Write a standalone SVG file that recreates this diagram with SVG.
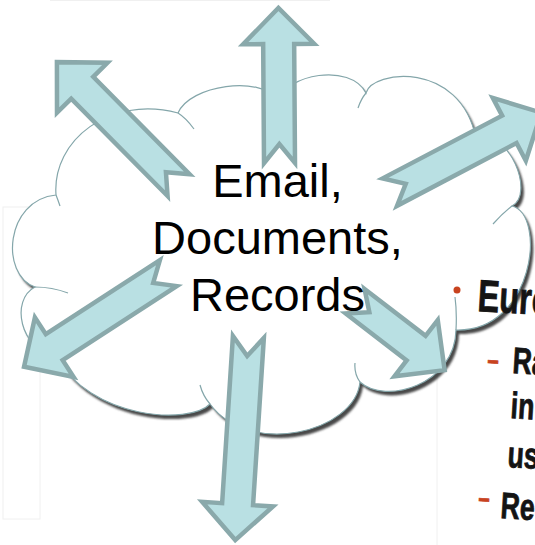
<svg xmlns="http://www.w3.org/2000/svg" xmlns:xlink="http://www.w3.org/1999/xlink" width="535" height="545" viewBox="0 0 535 545">
  <defs>
    <style>
      .cloud { fill: #ffffff; stroke: #84a6aa; stroke-width: 1.2; }
      .cloud-inner { fill: none; stroke: #84a6aa; stroke-width: 1.2; }
      .arrow { fill: #b9e0e3; stroke: #8aa9ab; stroke-width: 4.5; stroke-linejoin: miter; stroke-miterlimit: 6; }
      .label { font-family: "Liberation Sans", Arial, sans-serif; font-size: 47px; fill: #000000; text-anchor: middle; }
      .slide { font-family: "Liberation Sans", Arial, sans-serif; font-weight: bold; fill: #141414; stroke: #141414; stroke-width: 0.8; }
      .dash { fill: #c8431f; stroke: #c8431f; }
      .faint { fill: none; stroke: #f0f0f0; stroke-width: 1; }
    </style>
    <filter id="soft" x="-5%" y="-5%" width="110%" height="110%">
      <feGaussianBlur stdDeviation="0.8"/>
    </filter>
    <path id="cloudShape" d="M56,195 C52,140 110,95 178,113 C190,85 260,75 280,100 C285,75 350,62 366,93 C372,70 460,60 476,138 C510,128 535,195 512,206 C547,215 534,332 456,330 C455,385 385,405 360,382 C355,432 250,458 210,404 C190,425 90,420 55,355 C20,350 10,300 35,287 C0,275 5,200 56,195 Z"/>
  </defs>

  <rect width="535" height="545" fill="#ffffff"/>

  <!-- faint edges of the slide pictures behind -->
  <g id="backdrop">
    <line class="faint" x1="50" y1="0.5" x2="330" y2="0.5"/>
    <rect class="faint" x="3" y="207" width="37" height="312"/>
    <line class="faint" x1="437" y1="330" x2="437" y2="545"/>
  </g>

  <!-- cloud with drop shadow -->
  <g id="cloud">
    <use xlink:href="#cloudShape" transform="translate(3,4)" fill="#4a4a4a" filter="url(#soft)"/>
    <use xlink:href="#cloudShape" class="cloud"/>
    <path class="cloud-inner" d="M56,195 Q58,200 60,206 M178,113 Q186,118 194,129 M366,93 Q361,99 358,108 M512,206 Q503,213 493,224 M456,330 Q457,312 455,297 M360,382 Q354,374 355,363 M210,404 Q203,396 200,385 M35,287 Q52,287 68,293"/>
  </g>

  <!-- notched block arrows radiating from the cloud -->
  <g id="connectors">
    <polygon class="arrow" transform="translate(279.5,163) rotate(-90.4)" points="0,-15.5 119,-15.5 119,-35.5 155,0 119,35.5 119,15.5 0,15.5 19,0"/>
    <polygon class="arrow" transform="translate(178.6,185.1) rotate(-134.7)" points="0,-15.5 137,-15.5 137,-35.5 173,0 137,35.5 137,15.5 0,15.5 18,0"/>
    <polygon class="arrow" transform="translate(389.8,192.1) rotate(-27.7)" points="0,-15.5 135,-15.5 135,-35.5 171,0 135,35.5 135,15.5 0,15.5 18,0"/>
    <polygon class="arrow" transform="translate(168.3,273.1) rotate(147)" points="0,-15.5 136,-15.5 136,-35.5 172,0 136,35.5 136,15.5 0,15.5 18,0"/>
    <polygon class="arrow" transform="translate(248.4,337) rotate(93.7)" points="0,-15.5 167.5,-15.5 167.5,-35.5 203.5,0 167.5,35.5 167.5,15.5 0,15.5 19,0"/>
    <polygon class="arrow" transform="translate(355.1,301.2) rotate(37.6)" points="0,-15.5 77,-15.5 77,-35.5 113,0 77,35.5 77,15.5 0,15.5 18,0"/>
  </g>

  <!-- centre label -->
  <g id="cloud-label">
    <text class="label" x="277.5" y="197">Email,</text>
    <text class="label" x="277.5" y="254">Documents,</text>
    <text class="label" x="277.5" y="311">Records</text>
  </g>

  <!-- bullet text of the neighbouring slides -->
  <g id="slide-left">
    <text class="slide" font-size="38" transform="translate(-17,500) scale(0.72,1)">s</text>
  </g>
  <g id="slide-right">
    <circle cx="457" cy="290" r="3.5" fill="#c8431f"/>
    <text class="slide" font-size="45" transform="translate(477,311) rotate(3.5) scale(0.72,1)">Euro</text>
    <text class="slide dash" font-size="28" transform="translate(487,369) rotate(3.5) scale(0.72,1)">–</text>
    <text class="slide" font-size="37" transform="translate(512,373) rotate(3.5) scale(0.72,1)">Ra</text>
    <text class="slide" font-size="37" transform="translate(510,418) rotate(3.5) scale(0.72,1)">in</text>
    <text class="slide" font-size="37" transform="translate(507,467) rotate(3.5) scale(0.72,1)">us</text>
    <text class="slide dash" font-size="28" transform="translate(478,507) rotate(3.5) scale(0.72,1)">–</text>
    <text class="slide" font-size="37" transform="translate(500,518) rotate(3.5) scale(0.72,1)">Re</text>
  </g>
</svg>
